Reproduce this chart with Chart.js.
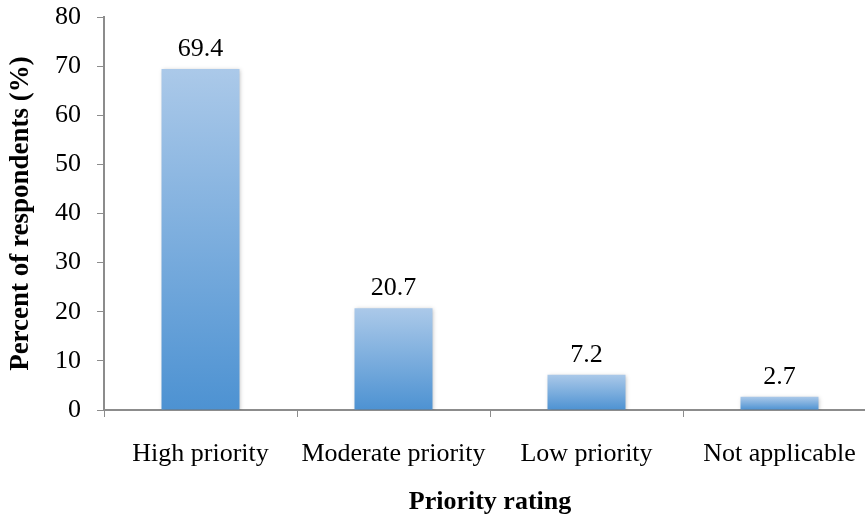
<!DOCTYPE html>
<html>
<head>
<meta charset="utf-8">
<script src="https://cdn.jsdelivr.net/npm/chart.js@4"></script>
<style>
  html, body { margin: 0; padding: 0; background: #fff; overflow: hidden; }
  #wrap { width: 876px; height: 514px; }
</style>
</head>
<body>
<div id="wrap"><canvas id="priorityChart" width="876" height="514"></canvas></div>
<script>
// ==========================
// DATA
// ==========================
const categories = ["High priority", "Moderate priority", "Low priority", "Not applicable"];
const percents = [69.4, 20.7, 7.2, 2.7];
const yTicks = [0, 10, 20, 30, 40, 50, 60, 70, 80];

const FONT = "'Liberation Serif', 'Times New Roman', serif";
const axisGray = "#8c8c8c";

// per-bar vertical gradient (light top -> darker bottom)
function barGradient(context) {
  const chart = context.chart;
  const { ctx, scales } = chart;
  if (!scales.y || !context.parsed) return "#79a9dc";
  const top = scales.y.getPixelForValue(context.parsed.y);
  const bottom = scales.y.getPixelForValue(0);
  if (!isFinite(top) || !isFinite(bottom) || top === bottom) return "#79a9dc";
  const g = ctx.createLinearGradient(0, top, 0, bottom);
  g.addColorStop(0, "#abc9e9");
  g.addColorStop(1, "#4d92d2");
  return g;
}

// value labels above bars
const valueLabels = {
  id: "valueLabels",
  afterDatasetsDraw(chart) {
    const { ctx } = chart;
    const meta = chart.getDatasetMeta(0);
    ctx.save();
    ctx.fillStyle = "#000";
    ctx.font = "26px " + FONT;
    ctx.textAlign = "center";
    ctx.textBaseline = "alphabetic";
    meta.data.forEach((bar, i) => {
      ctx.fillText(percents[i].toFixed(1), bar.x, bar.y - 13);
    });
    ctx.restore();
  },
};

// soft shadow behind bars
const shadowPlugin = {
  id: "barShadow",
  beforeDatasetsDraw(chart) {
    chart.ctx.save();
    chart.ctx.shadowColor = "rgba(0,0,0,0.25)";
    chart.ctx.shadowBlur = 4;
    chart.ctx.shadowOffsetX = 1;
    chart.ctx.shadowOffsetY = 1;
  },
  afterDatasetsDraw(chart) {
    chart.ctx.restore();
  },
};

new Chart(document.getElementById("priorityChart"), {
  type: "bar",
  data: {
    labels: categories,
    datasets: [
      {
        data: percents,
        backgroundColor: barGradient,
        borderWidth: 0,
        barPercentage: 0.404,
        categoryPercentage: 1,
      },
    ],
  },
  options: {
    responsive: false,
    animation: false,
    layout: { padding: { top: 17, right: 0, bottom: 0, left: 0 } },
    plugins: {
      legend: { display: false },
      tooltip: { enabled: false },
    },
    scales: {
      x: {
        grid: {
          display: true,
          drawOnChartArea: false,
          tickLength: 7,
          color: axisGray,
          offset: true,
        },
        border: { display: true, color: axisGray, width: 2 },
        ticks: {
          color: "#000",
          font: { family: FONT, size: 26 },
          padding: 22,
          maxRotation: 0,
        },
        title: {
          display: true,
          text: "Priority rating",
          color: "#000",
          font: { family: FONT, size: 26, weight: "bold" },
          padding: { top: 20, bottom: -4 },
        },
        afterFit(scale) {
          scale.height = 104;
          scale.paddingLeft = 0;
          scale.paddingRight = 0;
        },
      },
      y: {
        min: 0,
        max: 80,
        afterBuildTicks(scale) {
          scale.ticks = yTicks.map((v) => ({ value: v }));
        },
        grid: {
          display: true,
          drawOnChartArea: false,
          tickLength: 7,
          color: axisGray,
        },
        border: { display: true, color: axisGray, width: 2 },
        ticks: {
          color: "#000",
          font: { family: FONT, size: 26 },
          padding: 16,
        },
        title: {
          display: true,
          text: "Percent of respondents (%)",
          color: "#000",
          font: { family: FONT, size: 27, weight: "bold" },
          padding: { top: 5, bottom: 8 },
        },
        afterFit(scale) {
          scale.width = 104;
          scale.paddingTop = 0;
          scale.paddingBottom = 0;
        },
      },
    },
  },
  plugins: [shadowPlugin, valueLabels],
});
</script>
</body>
</html>
